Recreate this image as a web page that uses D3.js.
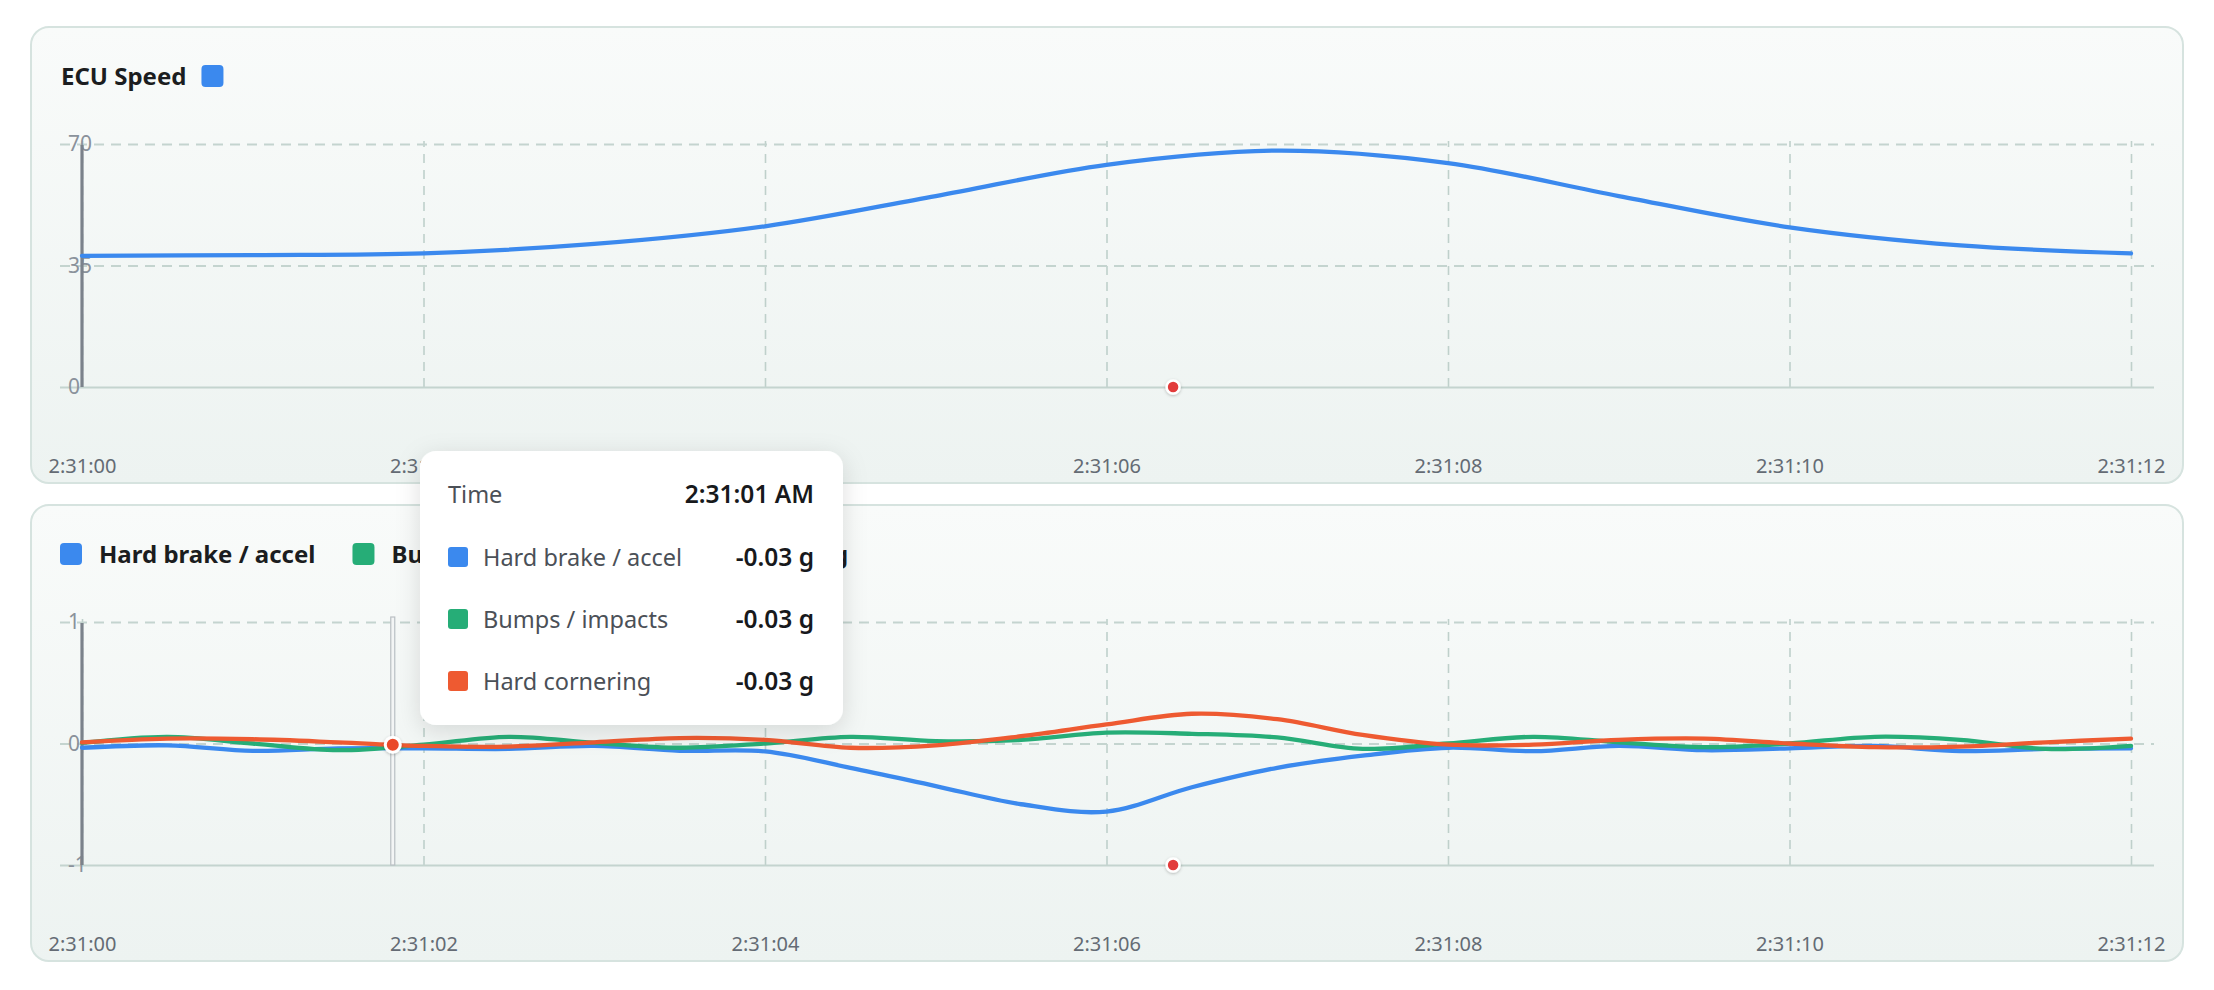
<!DOCTYPE html>
<html>
<head>
<meta charset="utf-8">
<script src="https://cdn.jsdelivr.net/npm/d3@7"></script>
<style>
  html, body { margin: 0; padding: 0; background: #ffffff; }
  svg { display: block; font-family: "Noto Sans", "Open Sans", sans-serif; }
</style>
</head>
<body>
<div id="chart"></div>
<script>
// ---- data ----
var speedSecs = [0, 1, 2, 3, 4, 5, 6, 7, 8, 9, 10, 11, 12];
var speedVals = [37.8, 38.0, 38.5, 41.2, 46.3, 55.0, 64.0, 68.1, 64.5, 55.0, 46.0, 40.8, 38.5];

var gSecs = [0, 0.5, 1, 1.5, 2, 2.5, 3, 3.5, 4, 4.5, 5, 5.5, 6, 6.5, 7, 7.5, 8, 8.5, 9, 9.5, 10, 10.5, 11, 11.5, 12];
var brakeVals  = [-0.035, -0.015, -0.06, -0.04, -0.04, -0.045, -0.02, -0.06, -0.065, -0.2, -0.35, -0.5, -0.56, -0.36, -0.2, -0.1, -0.035, -0.063, -0.02, -0.055, -0.04, -0.02, -0.063, -0.045, -0.04];
var bumpVals   = [0.005, 0.055, 0.0, -0.055, -0.01, 0.055, 0.005, -0.035, 0.0, 0.055, 0.02, 0.03, 0.09, 0.08, 0.05, -0.044, 0.0, 0.055, 0.01, -0.03, 0.0, 0.055, 0.03, -0.045, -0.02];
var cornerVals = [0.01, 0.04, 0.035, 0.01, -0.02, -0.025, 0.01, 0.045, 0.03, -0.035, -0.015, 0.06, 0.157, 0.245, 0.2, 0.07, -0.01, -0.01, 0.03, 0.04, 0.0, -0.03, -0.025, 0.01, 0.04];

var seriesNames = ["Hard brake / accel", "Bumps / impacts", "Hard cornering"];
var seriesColors = ["#3b89ee", "#26ad77", "#ee5a31"];

var xTickSecs = [0, 2, 4, 6, 8, 10, 12];
var speedTicks = [0, 35, 70];
var gTicks = [-1, 0, 1];

var eventSec = 6.39;   // red marker on the time axis
var hoverSec = 1.82;   // hover cursor in the g chart
var hoverVal = -0.01;

var tipTime = "2:31:01 AM";
var tipVals = ["-0.03 g", "-0.03 g", "-0.03 g"];

// ---- layout ----
var W = 2214, H = 990;
var panelX = 31, panelW = 2152, panelH = 456;
var panelTops = [27, 505];
var plotL = 82, plotR = 2131, gridL = 60, gridR = 2154;
var plotTop = 117, plotBot = 360, labelY = 446; // offsets from panel top

var base = new Date(2024, 0, 1, 2, 31, 0);
function toDate(s) { return new Date(base.getTime() + s * 1000); }

var svg = d3.select("#chart").append("svg")
    .attr("width", W)
    .attr("height", H);

var defs = svg.append("defs");
var grad = defs.append("linearGradient").attr("id", "panelBg")
    .attr("x1", 0).attr("y1", 0).attr("x2", 0).attr("y2", 1);
grad.append("stop").attr("offset", "0%").attr("stop-color", "#f9fbfa");
grad.append("stop").attr("offset", "100%").attr("stop-color", "#edf3f1");

var shadow = defs.append("filter").attr("id", "tipShadow")
    .attr("x", "-20%").attr("y", "-20%").attr("width", "140%").attr("height", "150%");
shadow.append("feDropShadow").attr("dx", 0).attr("dy", 6).attr("stdDeviation", 12)
    .attr("flood-color", "#000").attr("flood-opacity", 0.13);

var dotShadow = defs.append("filter").attr("id", "dotShadow")
    .attr("x", "-60%").attr("y", "-60%").attr("width", "220%").attr("height", "220%");
dotShadow.append("feDropShadow").attr("dx", 0).attr("dy", 1).attr("stdDeviation", 1.5)
    .attr("flood-color", "#000").attr("flood-opacity", 0.25);

var x = d3.scaleTime()
    .domain([toDate(0), toDate(12)])
    .range([plotL, plotR]);
var fmt = d3.timeFormat("%-I:%M:%S");

function drawPanel(top, yDomain, yTicks) {
    var g = svg.append("g");

    g.append("rect")
        .attr("x", panelX).attr("y", top)
        .attr("width", panelW).attr("height", panelH)
        .attr("rx", 18).attr("ry", 18)
        .attr("fill", "url(#panelBg)")
        .attr("stroke", "#d6e3df")
        .attr("stroke-width", 2);

    var y = d3.scaleLinear().domain(yDomain).range([top + plotBot, top + plotTop]);

    // vertical dashed grid
    g.append("g")
        .attr("transform", "translate(0," + (top + plotBot) + ")")
        .call(d3.axisBottom(x).tickValues(xTickSecs.map(toDate)).tickSize(-(plotBot - plotTop + 3)).tickFormat(""))
        .call(a => a.select(".domain").remove())
        .call(a => a.selectAll("line")
            .attr("stroke", "#bfd0cb")
            .attr("stroke-width", 1.6)
            .attr("stroke-dasharray", "9,7"));

    // horizontal grid (bottom one solid)
    g.append("g")
        .attr("transform", "translate(" + gridL + ",0)")
        .call(d3.axisLeft(y).tickValues(yTicks).tickSize(-(gridR - gridL)).tickFormat(""))
        .call(a => a.select(".domain").remove())
        .call(a => a.selectAll(".tick line")
            .attr("stroke", "#c4d4cf")
            .attr("stroke-width", d => d === yDomain[0] ? 2.2 : 1.8)
            .attr("stroke-dasharray", d => d === yDomain[0] ? null : "10,7"));

    // y labels, left aligned, centred on the grid line
    g.append("g").selectAll("text")
        .data(yTicks)
        .join("text")
        .attr("x", 68)
        .attr("y", d => y(d))
        .attr("dy", "0.35em")
        .attr("fill", "#8a929b")
        .style("font-size", "21px")
        .text(d => d);

    // x labels
    g.append("g")
        .attr("transform", "translate(0," + (top + labelY) + ")")
        .call(d3.axisBottom(x).tickValues(xTickSecs.map(toDate)).tickSize(0).tickFormat(fmt))
        .call(a => a.select(".domain").remove())
        .call(a => a.selectAll("text")
            .attr("y", 0).attr("dy", 0)
            .attr("fill", "#646b74")
            .style("font-size", "20px")
            .style("font-family", "\"Noto Sans\", sans-serif"));

    // dark start cursor
    g.append("line")
        .attr("x1", plotL).attr("x2", plotL)
        .attr("y1", top + plotTop + 1).attr("y2", top + plotBot)
        .attr("stroke", "#7b828b")
        .attr("stroke-width", 3.2);

    return { g: g, y: y };
}

// ---------- panel 1 : ECU speed ----------
var p1 = drawPanel(panelTops[0], [0, 70], speedTicks);

var speedLine = d3.line()
    .x((d, i) => x(toDate(speedSecs[i])))
    .y(d => p1.y(d))
    .curve(d3.curveCatmullRom.alpha(0.5));

p1.g.append("path")
    .attr("d", speedLine(speedVals))
    .attr("fill", "none")
    .attr("stroke", seriesColors[0])
    .attr("stroke-width", 4.3)
    .attr("stroke-linecap", "round");

var title = p1.g.append("text")
    .attr("x", 61).attr("y", panelTops[0] + 58)
    .attr("fill", "#1b1d20")
    .style("font-size", "24px")
    .style("font-weight", 700)
    .text("ECU Speed");
var tLen = title.node().getComputedTextLength();
p1.g.append("rect")
    .attr("x", 61 + tLen + 15).attr("y", panelTops[0] + 38)
    .attr("width", 22).attr("height", 22).attr("rx", 4)
    .attr("fill", seriesColors[0]);

p1.g.append("circle")
    .attr("cx", x(toDate(eventSec))).attr("cy", p1.y(0))
    .attr("r", 6.5)
    .attr("fill", "#e23b3b")
    .attr("stroke", "#ffffff").attr("stroke-width", 2.5)
    .attr("filter", "url(#dotShadow)");

// ---------- panel 2 : g forces ----------
var p2 = drawPanel(panelTops[1], [-1, 1], gTicks);

var gLine = d3.line()
    .x((d, i) => x(toDate(gSecs[i])))
    .y(d => p2.y(d))
    .curve(d3.curveCatmullRom.alpha(0.5));

[brakeVals, bumpVals, cornerVals].forEach((vals, k) => {
    p2.g.append("path")
        .attr("d", gLine(vals))
        .attr("fill", "none")
        .attr("stroke", seriesColors[k])
        .attr("stroke-width", 4.3)
        .attr("stroke-linecap", "round");
});

// legend (its right part sits under the tooltip, as in the source)
var lx = 60;
seriesNames.forEach((name, k) => {
    p2.g.append("rect")
        .attr("x", lx).attr("y", panelTops[1] + 38)
        .attr("width", 22).attr("height", 22).attr("rx", 4)
        .attr("fill", seriesColors[k]);
    var t = p2.g.append("text")
        .attr("x", lx + 39).attr("y", panelTops[1] + 58)
        .attr("fill", "#1b1d20")
        .style("font-size", "24px")
        .style("font-weight", 700)
        .text(name);
    lx = lx + 39 + t.node().getComputedTextLength() + 37;
});

p2.g.append("circle")
    .attr("cx", x(toDate(eventSec))).attr("cy", p2.y(-1))
    .attr("r", 6.5)
    .attr("fill", "#e23b3b")
    .attr("stroke", "#ffffff").attr("stroke-width", 2.5)
    .attr("filter", "url(#dotShadow)");

// hover cursor
var hx = x(toDate(hoverSec));
p2.g.append("rect")
    .attr("x", hx - 2).attr("y", panelTops[1] + plotTop - 5)
    .attr("width", 4).attr("height", plotBot - plotTop + 5)
    .attr("fill", "#f3f5f5")
    .attr("stroke", "#b9bfc3")
    .attr("stroke-width", 1.2);
p2.g.append("circle")
    .attr("cx", hx).attr("cy", p2.y(hoverVal))
    .attr("r", 7.5)
    .attr("fill", "#ea4a2a")
    .attr("stroke", "#ffffff").attr("stroke-width", 3)
    .attr("filter", "url(#dotShadow)");

// ---------- tooltip ----------
var tip = svg.append("g").attr("transform", "translate(420,451)");
tip.append("rect")
    .attr("width", 423).attr("height", 274)
    .attr("rx", 16).attr("ry", 16)
    .attr("fill", "#ffffff")
    .attr("filter", "url(#tipShadow)");
tip.append("text")
    .attr("x", 28).attr("y", 52)
    .attr("fill", "#4b5057")
    .style("font-size", "23.5px")
    .text("Time");
tip.append("text")
    .attr("x", 394).attr("y", 52)
    .attr("text-anchor", "end")
    .attr("fill", "#17191c")
    .style("font-size", "24.5px")
    .style("font-weight", 600)
    .text(tipTime);

seriesNames.forEach((name, k) => {
    var ry = 115 + k * 62;
    tip.append("rect")
        .attr("x", 28).attr("y", ry - 19)
        .attr("width", 20).attr("height", 20).attr("rx", 3)
        .attr("fill", seriesColors[k]);
    tip.append("text")
        .attr("x", 63).attr("y", ry)
        .attr("fill", "#4b5057")
        .style("font-size", "23.5px")
        .text(name);
    tip.append("text")
        .attr("x", 394).attr("y", ry)
        .attr("text-anchor", "end")
        .attr("fill", "#17191c")
        .style("font-size", "24.5px")
        .style("font-weight", 600)
        .text(tipVals[k]);
});
</script>
</body>
</html>
